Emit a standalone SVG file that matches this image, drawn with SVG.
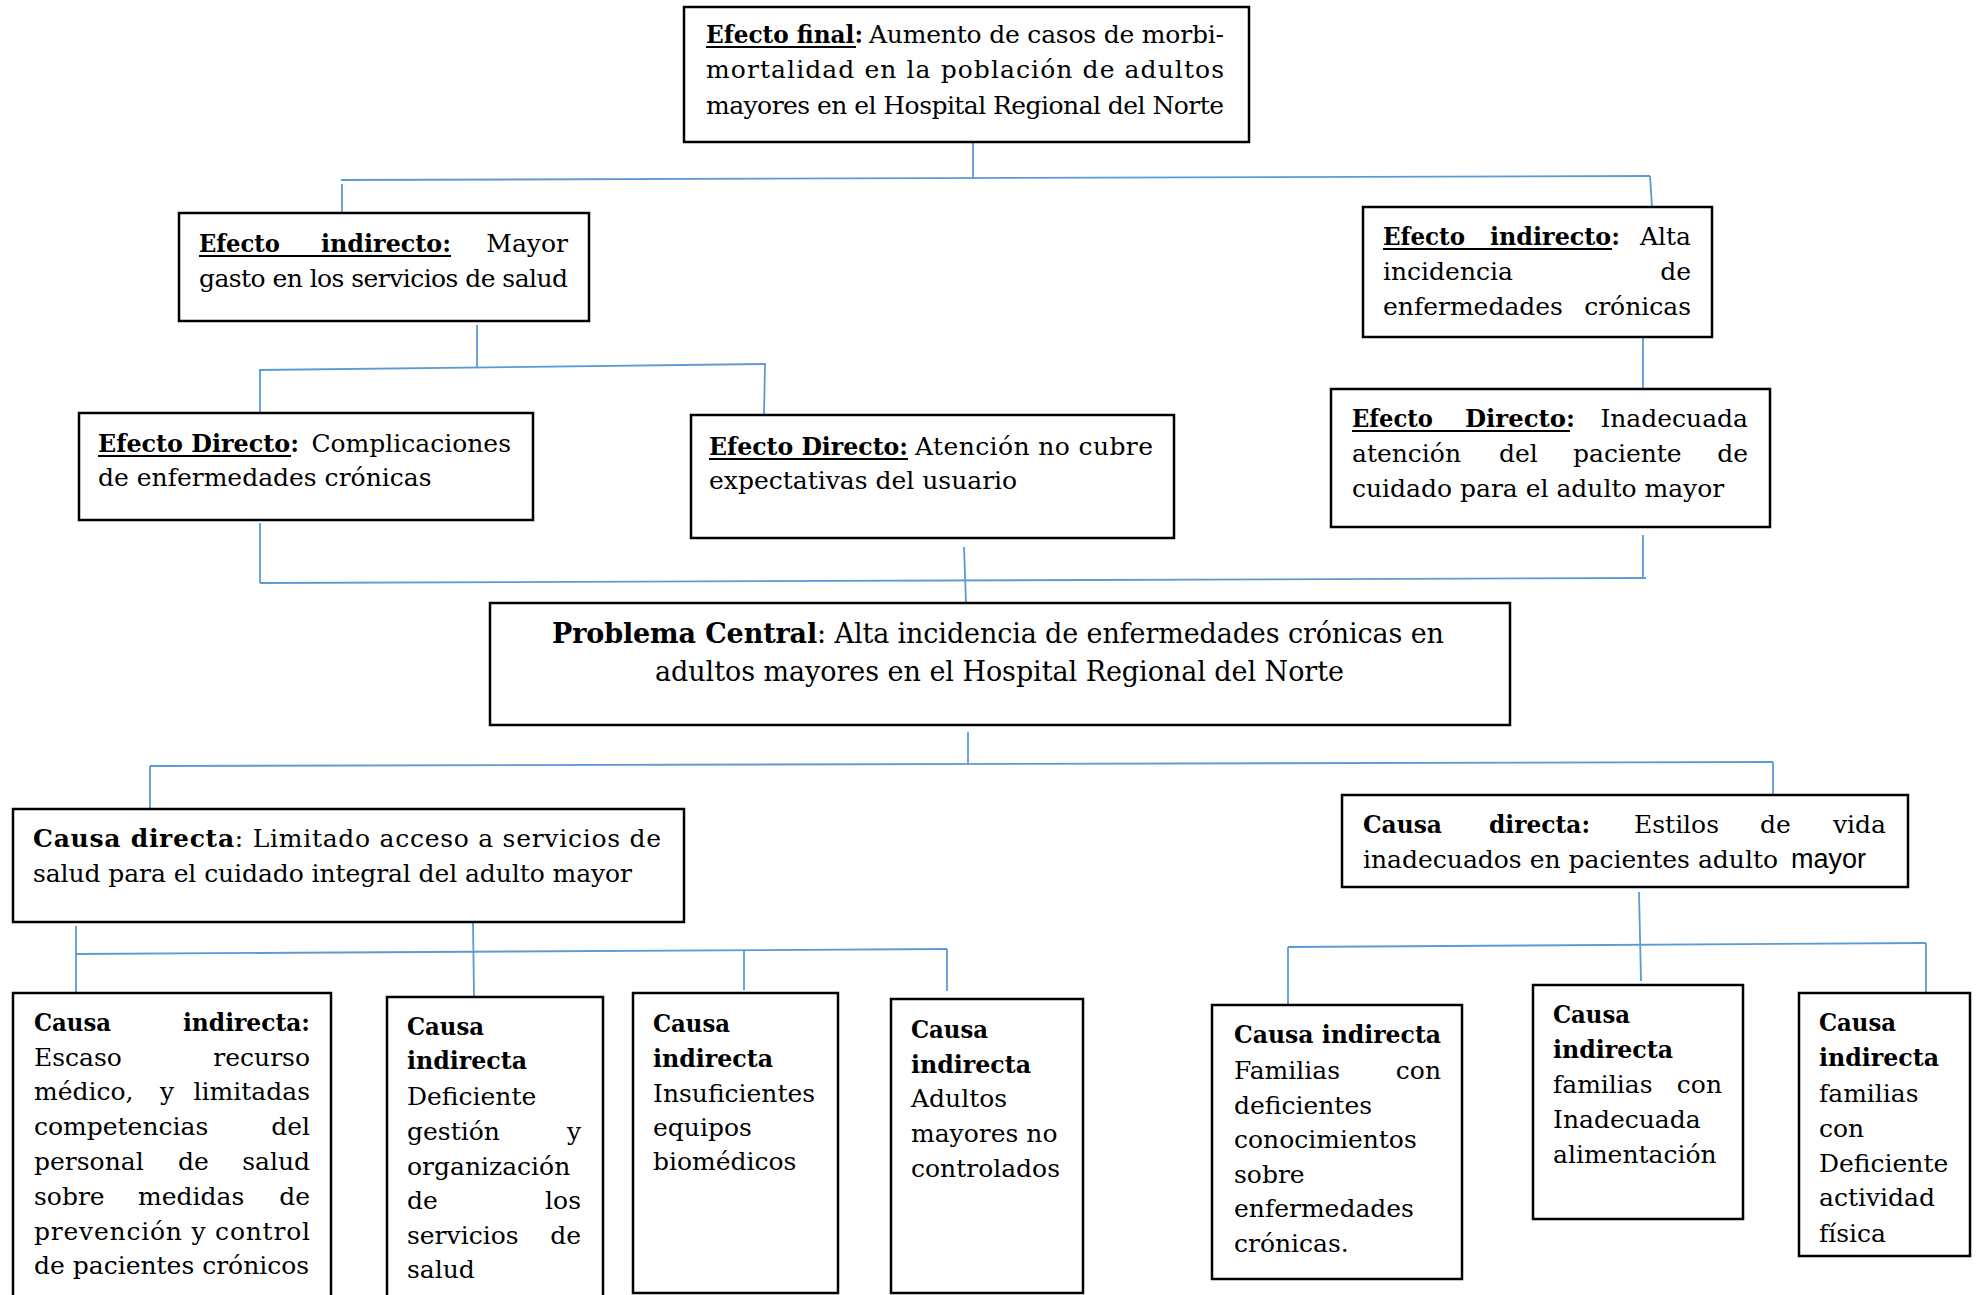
<svg xmlns="http://www.w3.org/2000/svg" width="1978" height="1295" viewBox="0 0 1978 1295">
<style>
.box{fill:#fff;stroke:#000;stroke-width:2.5}
.t{font-family:"DejaVu Serif","Liberation Serif",serif;font-size:25px;fill:#000}
.b{font-weight:bold}
.e{text-anchor:end}
.u{stroke:#000;stroke-width:2}
.c{stroke:#5B9BD5;stroke-width:1.8;fill:none}
.pc{font-size:27px}
.sans{font-family:"Liberation Sans",Arial,sans-serif;font-size:27px}
</style>
<rect width="1978" height="1295" fill="#fff"/>
<g id="connectors" class="c">
<line x1="973" y1="142" x2="973" y2="179"/>
<line x1="341" y1="180" x2="1650" y2="176"/>
<line x1="342" y1="184" x2="342" y2="216"/>
<line x1="1650" y1="176" x2="1652" y2="207"/>
<line x1="477" y1="325" x2="477" y2="368"/>
<line x1="259" y1="370" x2="766" y2="364"/>
<line x1="260" y1="370" x2="260" y2="413"/>
<line x1="765" y1="364" x2="764" y2="415"/>
<line x1="1643" y1="337" x2="1643" y2="389"/>
<line x1="260" y1="523" x2="260" y2="583"/>
<line x1="964" y1="547" x2="966" y2="603"/>
<line x1="1643" y1="535" x2="1643" y2="578"/>
<line x1="260" y1="583" x2="1646" y2="578"/>
<line x1="968" y1="732" x2="968" y2="763"/>
<line x1="150" y1="766" x2="1773" y2="762"/>
<line x1="150" y1="766" x2="150" y2="808"/>
<line x1="1773" y1="762" x2="1773" y2="795"/>
<line x1="76" y1="926" x2="76" y2="993"/>
<line x1="473" y1="922" x2="474" y2="997"/>
<line x1="76" y1="954" x2="947" y2="949"/>
<line x1="744" y1="950" x2="744" y2="990"/>
<line x1="947" y1="949" x2="947" y2="991"/>
<line x1="1639" y1="892" x2="1641" y2="981"/>
<line x1="1288" y1="947" x2="1926" y2="943"/>
<line x1="1288" y1="947" x2="1288" y2="1005"/>
<line x1="1926" y1="943" x2="1926" y2="993"/>
</g>
<g id="efecto-final">
<rect class="box" x="684" y="7" width="565" height="135"/>
<text class="t b" x="706" y="43" textLength="157" lengthAdjust="spacingAndGlyphs">Efecto final:</text>
<line class="u" x1="706" y1="47" x2="856" y2="47"/>
<text class="t" x="869" y="43" textLength="355">Aumento de casos de morbi-</text>
<text class="t" x="706" y="78" textLength="518">mortalidad  en la población de adultos</text>
<text class="t" x="706" y="114" textLength="518">mayores en el Hospital Regional del Norte</text>
</g>
<g id="efecto-indirecto-1">
<rect class="box" x="179" y="213" width="410" height="108"/>
<text class="t b" x="199" y="252" textLength="81" lengthAdjust="spacingAndGlyphs">Efecto</text>
<text class="t b" x="321" y="252" textLength="130" lengthAdjust="spacingAndGlyphs">indirecto:</text>
<text class="t e" x="568" y="252">Mayor</text>
<line class="u" x1="199" y1="256" x2="451" y2="256"/>
<text class="t" x="199" y="287" textLength="369">gasto en los servicios de salud</text>
</g>
<g id="efecto-indirecto-2">
<rect class="box" x="1363" y="207" width="349" height="130"/>
<text class="t b" x="1383" y="245" textLength="82" lengthAdjust="spacingAndGlyphs">Efecto</text>
<text class="t b" x="1490" y="245" textLength="130" lengthAdjust="spacingAndGlyphs">indirecto:</text>
<text class="t e" x="1691" y="245">Alta</text>
<line class="u" x1="1383" y1="249" x2="1612" y2="249"/>
<text class="t" x="1383" y="280">incidencia</text>
<text class="t e" x="1691" y="280">de</text>
<text class="t" x="1383" y="315">enfermedades</text>
<text class="t e" x="1691" y="315">crónicas</text>
</g>
<g id="efecto-directo-1">
<rect class="box" x="79" y="413" width="454" height="107"/>
<text class="t b" x="98" y="452" textLength="201" lengthAdjust="spacingAndGlyphs">Efecto Directo:</text>
<line class="u" x1="98" y1="456" x2="291" y2="456"/>
<text class="t e" x="511" y="452">Complicaciones</text>
<text class="t" x="98" y="486">de enfermedades crónicas</text>
</g>
<g id="efecto-directo-2">
<rect class="box" x="691" y="415" width="483" height="123"/>
<text class="t b" x="709" y="455" textLength="199" lengthAdjust="spacingAndGlyphs">Efecto Directo:</text>
<line class="u" x1="709" y1="459" x2="908" y2="459"/>
<text class="t" x="915" y="455" textLength="238">Atención no cubre</text>
<text class="t" x="709" y="489">expectativas del usuario</text>
</g>
<g id="efecto-directo-3">
<rect class="box" x="1331" y="389" width="439" height="138"/>
<text class="t b" x="1352" y="427" textLength="81" lengthAdjust="spacingAndGlyphs">Efecto</text>
<text class="t b" x="1465" y="427" textLength="110" lengthAdjust="spacingAndGlyphs">Directo:</text>
<text class="t e" x="1748" y="427">Inadecuada</text>
<line class="u" x1="1352" y1="431" x2="1570" y2="431"/>
<text class="t" x="1352" y="462">atención</text>
<text class="t" x="1499" y="462">del</text>
<text class="t" x="1573" y="462">paciente</text>
<text class="t e" x="1748" y="462">de</text>
<text class="t" x="1352" y="497">cuidado para el adulto mayor</text>
</g>
<g id="problema-central">
<rect class="box" x="490" y="603" width="1020" height="122"/>
<text class="t pc" x="552" y="643" textLength="892"><tspan class="b">Problema Central</tspan>: Alta incidencia de enfermedades crónicas en</text>
<text class="t pc" x="655" y="681" textLength="689">adultos mayores en el Hospital Regional del Norte</text>
</g>
<g id="causa-directa-1">
<rect class="box" x="13" y="809" width="671" height="113"/>
<text class="t" x="33" y="847" textLength="628"><tspan class="b">Causa directa</tspan>: Limitado acceso a servicios de</text>
<text class="t" x="33" y="882" textLength="599">salud para el cuidado integral del adulto mayor</text>
</g>
<g id="causa-directa-2">
<rect class="box" x="1342" y="795" width="566" height="92"/>
<text class="t b" x="1363" y="833" textLength="79" lengthAdjust="spacingAndGlyphs">Causa</text>
<text class="t b" x="1489" y="833" textLength="101" lengthAdjust="spacingAndGlyphs">directa:</text>
<text class="t" x="1634" y="833">Estilos</text>
<text class="t" x="1760" y="833">de</text>
<text class="t e" x="1886" y="833">vida</text>
<text class="t" x="1363" y="868">inadecuados en pacientes adulto</text>
<text class="sans" x="1791" y="868">mayor</text>
</g>
<g id="causa-indirecta-1">
<rect class="box" x="13" y="993" width="318" height="305"/>
<text class="t b" x="34" y="1031" textLength="77" lengthAdjust="spacingAndGlyphs">Causa</text>
<text class="t b" x="183" y="1031" textLength="127" lengthAdjust="spacingAndGlyphs">indirecta:</text>
<text class="t" x="34" y="1066">Escaso</text>
<text class="t e" x="310" y="1066">recurso</text>
<text class="t" x="34" y="1100">médico,</text>
<text class="t" x="160" y="1100">y</text>
<text class="t e" x="310" y="1100">limitadas</text>
<text class="t" x="34" y="1135">competencias</text>
<text class="t e" x="310" y="1135">del</text>
<text class="t" x="34" y="1170">personal</text>
<text class="t" x="178" y="1170">de</text>
<text class="t e" x="310" y="1170">salud</text>
<text class="t" x="34" y="1205">sobre</text>
<text class="t" x="138" y="1205">medidas</text>
<text class="t e" x="310" y="1205">de</text>
<text class="t" x="34" y="1240" textLength="276">prevención y control</text>
<text class="t" x="34" y="1274">de pacientes crónicos</text>
</g>
<g id="causa-indirecta-2">
<rect class="box" x="387" y="997" width="216" height="301"/>
<text class="t b" x="407" y="1035" textLength="77" lengthAdjust="spacingAndGlyphs">Causa</text>
<text class="t b" x="407" y="1069" textLength="120" lengthAdjust="spacingAndGlyphs">indirecta</text>
<text class="t" x="407" y="1105">Deficiente</text>
<text class="t" x="407" y="1140">gestión</text>
<text class="t e" x="581" y="1140">y</text>
<text class="t" x="407" y="1175">organización</text>
<text class="t" x="407" y="1209">de</text>
<text class="t e" x="581" y="1209">los</text>
<text class="t" x="407" y="1244">servicios</text>
<text class="t e" x="581" y="1244">de</text>
<text class="t" x="407" y="1278">salud</text>
</g>
<g id="causa-indirecta-3">
<rect class="box" x="633" y="993" width="205" height="300"/>
<text class="t b" x="653" y="1032" textLength="77" lengthAdjust="spacingAndGlyphs">Causa</text>
<text class="t b" x="653" y="1067" textLength="120" lengthAdjust="spacingAndGlyphs">indirecta</text>
<text class="t" x="653" y="1102">Insuficientes</text>
<text class="t" x="653" y="1136">equipos</text>
<text class="t" x="653" y="1170">biomédicos</text>
</g>
<g id="causa-indirecta-4">
<rect class="box" x="891" y="999" width="192" height="294"/>
<text class="t b" x="911" y="1038" textLength="77" lengthAdjust="spacingAndGlyphs">Causa</text>
<text class="t b" x="911" y="1073" textLength="120" lengthAdjust="spacingAndGlyphs">indirecta</text>
<text class="t" x="911" y="1107">Adultos</text>
<text class="t" x="911" y="1142">mayores no</text>
<text class="t" x="911" y="1177">controlados</text>
</g>
<g id="causa-indirecta-5">
<rect class="box" x="1212" y="1005" width="250" height="274"/>
<text class="t b" x="1234" y="1043" textLength="207" lengthAdjust="spacingAndGlyphs">Causa indirecta</text>
<text class="t" x="1234" y="1079">Familias</text>
<text class="t e" x="1441" y="1079">con</text>
<text class="t" x="1234" y="1114">deficientes</text>
<text class="t" x="1234" y="1148">conocimientos</text>
<text class="t" x="1234" y="1183">sobre</text>
<text class="t" x="1234" y="1217">enfermedades</text>
<text class="t" x="1234" y="1252">crónicas.</text>
</g>
<g id="causa-indirecta-6">
<rect class="box" x="1533" y="985" width="210" height="234"/>
<text class="t b" x="1553" y="1023" textLength="77" lengthAdjust="spacingAndGlyphs">Causa</text>
<text class="t b" x="1553" y="1058" textLength="120" lengthAdjust="spacingAndGlyphs">indirecta</text>
<text class="t" x="1553" y="1093">familias</text>
<text class="t e" x="1722" y="1093">con</text>
<text class="t" x="1553" y="1128">Inadecuada</text>
<text class="t" x="1553" y="1163">alimentación</text>
</g>
<g id="causa-indirecta-7">
<rect class="box" x="1799" y="993" width="171" height="263"/>
<text class="t b" x="1819" y="1031" textLength="77" lengthAdjust="spacingAndGlyphs">Causa</text>
<text class="t b" x="1819" y="1066" textLength="120" lengthAdjust="spacingAndGlyphs">indirecta</text>
<text class="t" x="1819" y="1102">familias</text>
<text class="t" x="1819" y="1137">con</text>
<text class="t" x="1819" y="1172">Deficiente</text>
<text class="t" x="1819" y="1206">actividad</text>
<text class="t" x="1819" y="1242">física</text>
</g>
</svg>
